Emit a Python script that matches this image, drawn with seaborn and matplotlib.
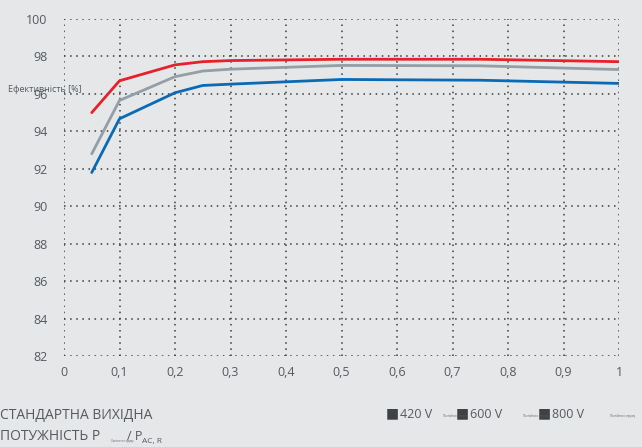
import matplotlib
matplotlib.use("Agg")
import numpy as np
import pandas as pd
import matplotlib.pyplot as plt
import seaborn as sns

# relative output power P_AC / P_AC,R
load = [0.05, 0.1, 0.2, 0.25, 0.3, 0.5, 0.75, 1.0]

# efficiency [%] per DC voltage
eff_800 = [95.0, 96.7, 97.55, 97.72, 97.78, 97.85, 97.85, 97.72]
eff_600 = [92.8, 95.65, 96.92, 97.22, 97.32, 97.52, 97.5, 97.3]
eff_420 = [91.8, 94.67, 96.06, 96.45, 96.52, 96.77, 96.73, 96.56]

voltages = ["420 V", "600 V", "800 V"]
colors = {"420 V": "#0a6ab4", "600 V": "#939ea6", "800 V": "#e8202a"}

x_ticks = [0, 0.1, 0.2, 0.3, 0.4, 0.5, 0.6, 0.7, 0.8, 0.9, 1.0]
x_labels = ["0", "0,1", "0,2", "0,3", "0,4", "0,5", "0,6", "0,7", "0,8", "0,9", "1"]
y_ticks = list(range(82, 101, 2))

df = pd.DataFrame({
    "load": load * 3,
    "eff": eff_420 + eff_600 + eff_800,
    "voltage": [v for v in voltages for _ in load],
})

bg = "#e6e7e9"
txt = "#555a5f"

sns.set_style("white")
plt.rcParams["font.family"] = ["Open Sans", "DejaVu Sans"]

fig = plt.figure(figsize=(6.42, 4.47), dpi=100, facecolor=bg)
ax = fig.add_axes([64 / 642, 1 - 356 / 447, 555 / 642, 337 / 447])
ax.set_facecolor(bg)

sns.lineplot(data=df, x="load", y="eff", hue="voltage", palette=colors,
             linewidth=2.0, legend=False, ax=ax, zorder=3)

ax.set_xlim(0, 1)
ax.set_ylim(82, 100)
ax.set_xticks(x_ticks)
ax.set_xticklabels(x_labels)
ax.set_yticks(y_ticks)
ax.grid(True, color="#3a3a3a", linestyle=(0, (1, 3)), linewidth=1.1)
for s in ax.spines.values():
    s.set_visible(False)
ax.tick_params(axis="both", length=0, labelsize=9, labelcolor=txt)
ax.tick_params(axis="x", pad=7)
ax.tick_params(axis="y", pad=12)
ax.set_xlabel("")
ax.set_ylabel("")

# horizontal y label overlapping the 96 tick
fig.text(8 / 642, 1 - 90 / 447, "Ефективність [%]", fontsize=6.5, color=txt,
         va="center", ha="left")

# x-axis title at bottom left
fig.text(0, 1 - 415 / 447, "СТАНДАРТНА ВИХІДНА", fontsize=10, color=txt,
         va="center", ha="left")
fig.text(0, 1 - 437 / 447, "ПОТУЖНІСТЬ P", fontsize=10, color=txt,
         va="center", ha="left")
fig.text(111 / 642, 1 - 441 / 447, "Змінного струму", fontsize=2, color=txt,
         va="center", ha="left")
fig.text(127 / 642, 1 - 436 / 447, "/ P", fontsize=9, color=txt,
         va="center", ha="left")
fig.text(142 / 642, 1 - 442 / 447, "AC, R", fontsize=6, color=txt,
         va="center", ha="left")

# legend entries
for xs, lab in zip([386, 456, 538], voltages):
    fig.text(xs / 642, 1 - 414 / 447, "■", fontsize=10, color="#3f4245",
             va="center", ha="left")
    fig.text((xs + 14) / 642, 1 - 414 / 447, lab, fontsize=9, color=txt,
             va="center", ha="left")
for xs in [443, 523, 610]:
    fig.text(xs / 642, 1 - 416 / 447, "Постійного струму", fontsize=2,
             color=txt, va="center", ha="left")

fig.savefig("out.png", dpi=100, facecolor=bg)
